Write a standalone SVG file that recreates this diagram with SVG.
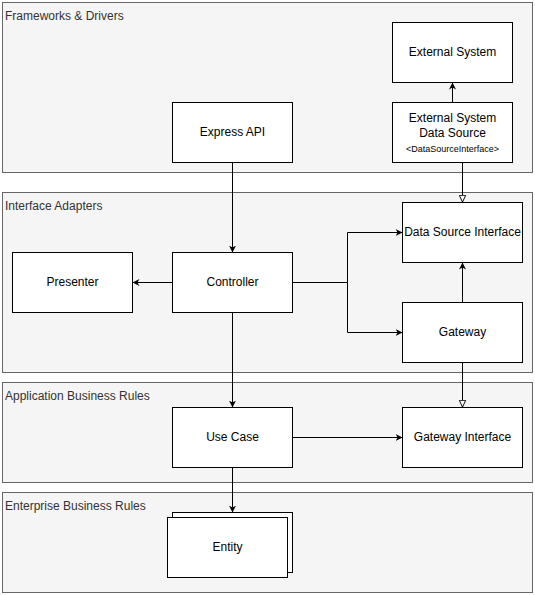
<svg xmlns="http://www.w3.org/2000/svg" width="535" height="595" viewBox="0 0 535 595">
<style>
.layer{fill:#f5f5f5;stroke:#666666;stroke-width:1}
.ltxt{font-family:"Liberation Sans",Arial,sans-serif;font-size:12px;fill:#333333}
.box{fill:#ffffff;stroke:#000000;stroke-width:1}
.txt{font-family:"Liberation Sans",Arial,sans-serif;font-size:12px;fill:#000000;text-anchor:middle}
.small{font-size:9px}
.edge{fill:none;stroke:#000000;stroke-width:1}
</style>
<defs>
<marker id="arr" viewBox="0 0 10 10" refX="10" refY="5" markerWidth="7" markerHeight="7" orient="auto" markerUnits="userSpaceOnUse">
<path d="M0,0 L10,5 L0,10 L3,5 z" fill="#000000"/>
</marker>
<marker id="tri" viewBox="0 0 10 10" refX="10" refY="5" markerWidth="8" markerHeight="8" orient="auto" markerUnits="userSpaceOnUse">
<path d="M1,1 L9.5,5 L1,9 z" fill="#ffffff" stroke="#000000" stroke-width="1.2"/>
</marker>
</defs>
<g id="layers">
<g id="layer-frameworks"><rect class="layer" x="2.5" y="2.5" width="530" height="170"/><text class="ltxt" x="5" y="20">Frameworks &amp; Drivers</text></g>
<g id="layer-adapters"><rect class="layer" x="2.5" y="192.5" width="530" height="180"/><text class="ltxt" x="5" y="210">Interface Adapters</text></g>
<g id="layer-application"><rect class="layer" x="2.5" y="382.5" width="530" height="100"/><text class="ltxt" x="5" y="400">Application Business Rules</text></g>
<g id="layer-enterprise"><rect class="layer" x="2.5" y="492.5" width="530" height="100"/><text class="ltxt" x="5" y="510">Enterprise Business Rules</text></g>
</g>
<g id="connectors">
<path class="edge" d="M452.5,102.5 V82.5" marker-end="url(#arr)"/>
<path class="edge" d="M462.5,162.5 V202.5" marker-end="url(#tri)"/>
<path class="edge" d="M232.5,162.5 V252.5" marker-end="url(#arr)"/>
<path class="edge" d="M172.5,282.5 H132.5" marker-end="url(#arr)"/>
<path class="edge" d="M292.5,282.5 H347.5 V232.5 H402.5" marker-end="url(#arr)"/>
<path class="edge" d="M347.5,282.5 V332.5 H402.5" marker-end="url(#arr)"/>
<path class="edge" d="M462.5,302.5 V262.5" marker-end="url(#arr)"/>
<path class="edge" d="M462.5,362.5 V407.5" marker-end="url(#tri)"/>
<path class="edge" d="M232.5,312.5 V407.5" marker-end="url(#arr)"/>
<path class="edge" d="M292.5,437.5 H402.5" marker-end="url(#arr)"/>
<path class="edge" d="M232.5,467.5 V512.5" marker-end="url(#arr)"/>
</g>
<g id="external-system"><rect class="box" x="392.5" y="22.5" width="120" height="60"/><text class="txt" x="452.5" y="56">External System</text></g>
<g id="external-data-source"><rect class="box" x="392.5" y="102.5" width="120" height="60"/><text class="txt" x="452.5" y="122">External System</text><text class="txt" x="452.5" y="136.5">Data Source</text><text class="txt small" x="452.5" y="151.5">&lt;DataSourceInterface&gt;</text></g>
<g id="express-api"><rect class="box" x="172.5" y="102.5" width="120" height="60"/><text class="txt" x="232.5" y="136">Express API</text></g>
<g id="data-source-interface"><rect class="box" x="402.5" y="202.5" width="120" height="60"/><text class="txt" x="462.5" y="236">Data Source Interface</text></g>
<g id="presenter"><rect class="box" x="12.5" y="252.5" width="120" height="60"/><text class="txt" x="72.5" y="286">Presenter</text></g>
<g id="controller"><rect class="box" x="172.5" y="252.5" width="120" height="60"/><text class="txt" x="232.5" y="286">Controller</text></g>
<g id="gateway"><rect class="box" x="402.5" y="302.5" width="120" height="60"/><text class="txt" x="462.5" y="336">Gateway</text></g>
<g id="use-case"><rect class="box" x="172.5" y="407.5" width="120" height="60"/><text class="txt" x="232.5" y="441">Use Case</text></g>
<g id="gateway-interface"><rect class="box" x="402.5" y="407.5" width="120" height="60"/><text class="txt" x="462.5" y="441">Gateway Interface</text></g>
<g id="entity"><rect class="box" x="172.5" y="512.5" width="120" height="60"/><rect class="box" x="167.5" y="517.5" width="120" height="60"/><text class="txt" x="227.5" y="551">Entity</text></g>
</svg>
